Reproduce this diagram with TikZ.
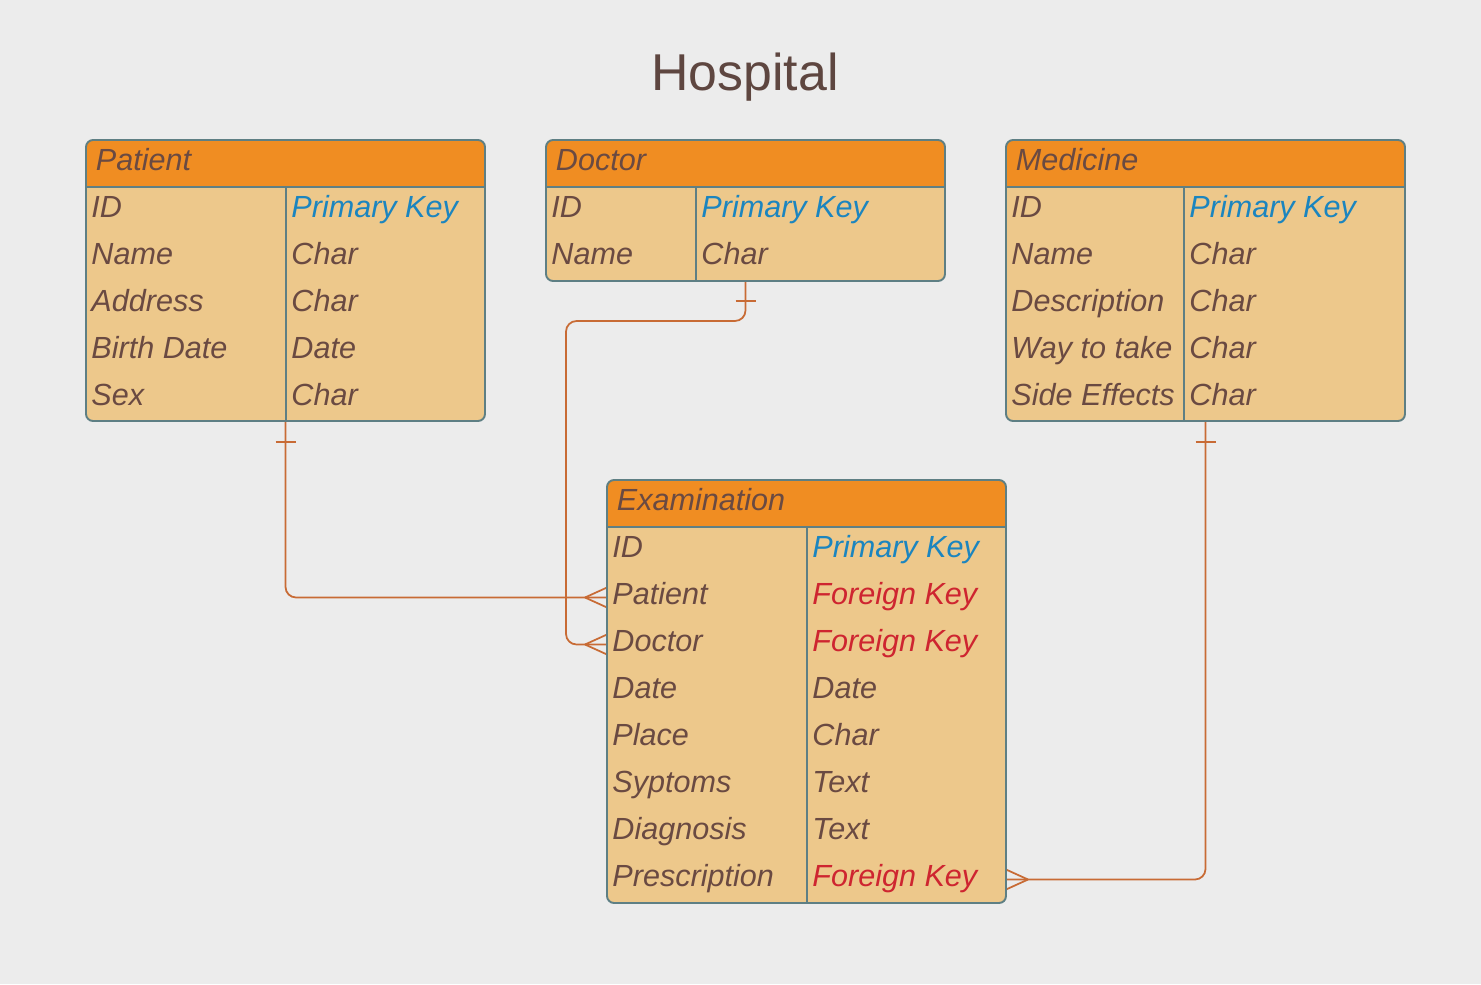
\documentclass[tikz,border=0pt]{standalone}
\usepackage{fontspec}
\setmainfont{Liberation Sans}
\usetikzlibrary{positioning,calc}

\definecolor{bg}{HTML}{ECECEC}
\definecolor{hdr}{HTML}{F08D22}
\definecolor{body}{HTML}{EDC88B}
\definecolor{frame}{HTML}{5E7F84}
\definecolor{ink}{HTML}{6A4A42}
\definecolor{pk}{HTML}{1B85BF}
\definecolor{fk}{HTML}{CE2530}
\definecolor{rel}{HTML}{C86B35}
\definecolor{titleink}{HTML}{5E4640}

% table frame: name, left, top, right, bottom, column divider
\newcommand{\entityframe}[6]{%
  \begin{scope}
    \clip[rounded corners=4] (#2,#3) rectangle (#4,#5);
    \fill[body] (#2,#3) rectangle (#4,#5);
    \fill[hdr] (#2,#3) rectangle (#4,#3+47);
  \end{scope}
  \draw[frame, rounded corners=4] (#2,#3) rectangle (#4,#5);
  \draw[frame] (#2,#3+47) -- (#4,#3+47);
  \draw[frame] (#6,#3+47) -- (#6,#5);
  \coordinate (#1-s) at ({(#2+#4)/2},#5);
}

\begin{document}
\begin{tikzpicture}[x=0.02cm, y=-0.02cm, line width=1.1pt,
    cell/.style={anchor=west, inner xsep=0.09cm, inner ysep=0pt,
      text height=0.5cm, text depth=0.22cm,
      font=\fontsize{17.4}{21}\selectfont\itshape, text=ink},
    head/.style={cell, inner xsep=0.18cm},
    relline/.style={draw=rel, line width=1pt, rounded corners=6},
    relmark/.style={draw=rel, line width=1pt}]

  \path[use as bounding box, fill=bg] (0,0) rectangle (1481,984);

  \node[font=\fontsize{29.5}{35}\selectfont, text=titleink] (title) at (745,77) {Hospital};

  % connector end points that sit on table edges
  \coordinate (patient-s) at (285.5,421);
  \coordinate (doctor-s) at (745.5,281);
  \coordinate (medicine-s) at (1205.5,421);
  \coordinate (exam-rx) at (1006,879.5);
  \coordinate (exam-pat) at (607,597.5);
  \coordinate (exam-doc) at (607,644.5);

  % relations
  \draw[relline] (patient-s) |- (exam-pat);
  \draw[relline] (doctor-s) -- ++(0,40) -| ([shift={(-41,0)}]exam-doc) -- (exam-doc);
  \draw[relline] (medicine-s) |- (exam-rx);

  % one side
  \draw[relmark] ([shift={(-10,21)}]patient-s) -- ++(20,0);
  \draw[relmark] ([shift={(-10,20)}]doctor-s) -- ++(20,0);
  \draw[relmark] ([shift={(-10,21)}]medicine-s) -- ++(20,0);

  % many side
  \foreach \c in {exam-pat, exam-doc} {
    \draw[relmark] ([shift={(-22,0)}]\c) -- ([shift={(0,-10)}]\c);
    \draw[relmark] ([shift={(-22,0)}]\c) -- ([shift={(0,10)}]\c);
  }
  \draw[relmark] ([shift={(22,0)}]exam-rx) -- ([shift={(0,-10)}]exam-rx);
  \draw[relmark] ([shift={(22,0)}]exam-rx) -- ([shift={(0,10)}]exam-rx);

  % Patient
  \entityframe{patient}{86}{140}{485}{421}{286}
  \node[head] (patient-h) at (86,163.5) {Patient};
  \foreach \f/\t/\s [count=\i] in {ID/Primary Key/pk, Name/Char/ink,
      Address/Char/ink, Birth Date/Date/ink, Sex/Char/ink} {
    \node[cell] (patient-\i) at (86,{163.5+\i*47}) {\f};
    \node[cell, text=\s] (patient-\i t) at (286,{163.5+\i*47}) {\t};
  }

  % Doctor
  \entityframe{doctor}{546}{140}{945}{281}{696}
  \node[head] (doctor-h) at (546,163.5) {Doctor};
  \foreach \f/\t/\s [count=\i] in {ID/Primary Key/pk, Name/Char/ink} {
    \node[cell] (doctor-\i) at (546,{163.5+\i*47}) {\f};
    \node[cell, text=\s] (doctor-\i t) at (696,{163.5+\i*47}) {\t};
  }

  % Medicine
  \entityframe{medicine}{1006}{140}{1405}{421}{1184}
  \node[head] (medicine-h) at (1006,163.5) {Medicine};
  \foreach \f/\t/\s [count=\i] in {ID/Primary Key/pk, Name/Char/ink,
      Description/Char/ink, Way to take/Char/ink, Side Effects/Char/ink} {
    \node[cell] (medicine-\i) at (1006,{163.5+\i*47}) {\f};
    \node[cell, text=\s] (medicine-\i t) at (1184,{163.5+\i*47}) {\t};
  }

  % Examination
  \entityframe{exam}{607}{480}{1006}{903}{807}
  \node[head] (exam-h) at (607,503.5) {Examination};
  \foreach \f/\t/\s [count=\i] in {ID/Primary Key/pk, Patient/Foreign Key/fk,
      Doctor/Foreign Key/fk, Date/Date/ink, Place/Char/ink, Syptoms/Text/ink,
      Diagnosis/Text/ink, Prescription/Foreign Key/fk} {
    \node[cell] (exam-\i) at (607,{503.5+\i*47}) {\f};
    \node[cell, text=\s] (exam-\i t) at (807,{503.5+\i*47}) {\t};
  }
\end{tikzpicture}
\end{document}
